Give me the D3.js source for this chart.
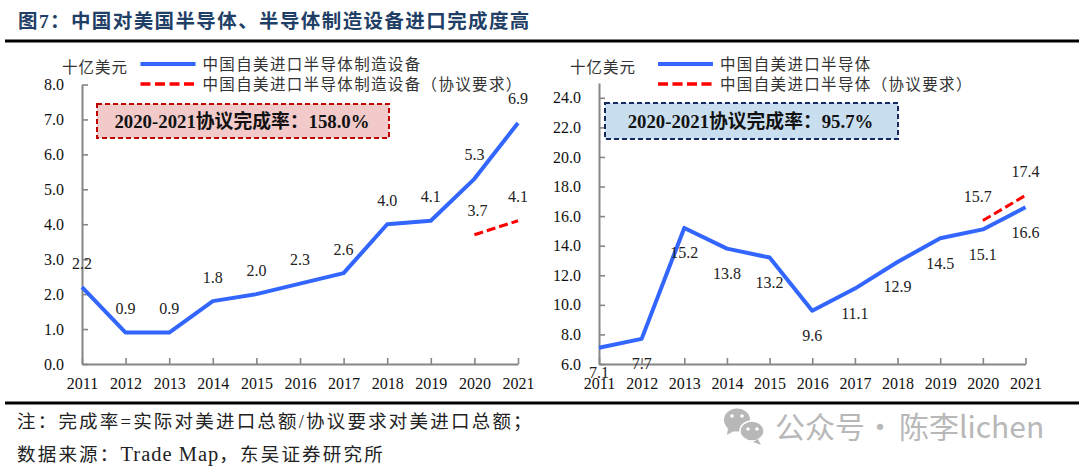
<!DOCTYPE html>
<html><head><meta charset="utf-8">
<script src="https://cdn.jsdelivr.net/npm/d3@7/dist/d3.min.js"></script>
<style>
html,body{margin:0;padding:0;background:#fff;overflow:hidden}
svg{display:block}
text{font-family:"Liberation Serif","Noto Sans CJK SC",serif}
</style></head><body>
<svg id="c" width="1080" height="471"></svg>
<script>
const years = ["2011","2012","2013","2014","2015","2016","2017","2018","2019","2020","2021"];
const equipActual = [2.2,0.9,0.9,1.8,2.0,2.3,2.6,4.0,4.1,5.3,6.9];
const equipTarget = [3.7,4.1];
const chipActual = [7.1,7.7,15.2,13.8,13.2,9.6,11.1,12.9,14.5,15.1,16.6];
const chipTarget = [15.7,17.4];
const targetYears = ["2020","2021"];
const equipTicks = [0,1,2,3,4,5,6,7,8];
const chipTicks = [6,8,10,12,14,16,18,20,22,24];
const titleText = "图7：中国对美国半导体、半导体制造设备进口完成度高";
const noteText = "注：完成率=实际对美进口总额/协议要求对美进口总额；";
const sourceParts = ["数据来源：","Trade Map","，东吴证券研究所"];
const unitText = "十亿美元";

const BLUE="#3366ff", RED="#ff0000", GREY="#868686", INK="#222";
const svg=d3.select("#c");

svg.append("text").attr("x",18).attr("y",28).attr("font-size",19.5).attr("font-weight",700)
  .attr("letter-spacing",1.4).attr("fill","#1f3f66").text(titleText);
[41,403].forEach(y=>svg.append("line").attr("x1",5).attr("x2",1079).attr("y1",y).attr("y2",y)
  .attr("stroke","#000").attr("stroke-width",3));
svg.append("text").attr("x",17).attr("y",428).attr("font-size",18.5).attr("letter-spacing",2.2).attr("fill",INK).text(noteText);
const src=svg.append("text").attr("x",17).attr("y",461).attr("font-size",18.5).attr("letter-spacing",2.2).attr("fill",INK);
sourceParts.forEach((s,i)=>{
  const t=src.append("tspan").text(s);
  if(i===1) t.attr("font-size",20.5).attr("letter-spacing",1);
});

function panel(o){
  const g=svg.append("g");
  const x=d3.scalePoint().domain(years).range(o.xr);
  const y=d3.scaleLinear().domain(o.yd).range(o.yr);
  const fmt=d=>d.toFixed(1);
  const ya=g.append("g").attr("transform",`translate(${o.xr[0]},0)`)
    .call(d3.axisLeft(y).tickValues(o.ticks).tickSize(-6).tickSizeOuter(0).tickPadding(18).tickFormat(fmt));
  const xa=g.append("g").attr("transform",`translate(0,${o.yr[0]})`)
    .call(d3.axisBottom(x).tickSize(-6).tickSizeOuter(0).tickPadding(14));
  [ya,xa].forEach(a=>{
    a.selectAll("path").attr("stroke",GREY).attr("stroke-width",2);
    a.selectAll("line").attr("stroke",GREY).attr("stroke-width",1.6);
    a.selectAll("text").attr("font-size",16).attr("fill","#111")
      .style("font-family","Liberation Serif");
  });
  const ln=d3.line().x(d=>x(d[0])).y(d=>y(d[1]));
  g.append("path").attr("d",ln(years.map((t,i)=>[t,o.actual[i]]))).attr("fill","none")
    .attr("stroke",BLUE).attr("stroke-width",4).attr("stroke-linejoin","round");
  g.append("path").attr("d",ln(targetYears.map((t,i)=>[t,o.target[i]]))).attr("fill","none")
    .attr("stroke",RED).attr("stroke-width",3).attr("stroke-dasharray","9,4");
  const lab=(t,v,dy,dx=0)=>g.append("text").attr("x",x(t)+dx).attr("y",y(v)+dy+5.5).attr("text-anchor","middle")
    .attr("font-size",16).attr("fill","#222").text(fmt(v));
  years.forEach((t,i)=>lab(t,o.actual[i],o.actualDy));
  targetYears.forEach((t,i)=>lab(t,o.target[i],-24,o.tdx[i]));
  g.append("text").attr("x",o.unitX).attr("y",o.unitY).attr("font-size",15.5).attr("letter-spacing",1).attr("fill","#333").text(unitText);
  [[o.names[0],64,BLUE,4,null],[o.names[1],84,RED,3.4,"10,4.5"]].forEach(([n,ly,c,w,dash])=>{
    g.append("line").attr("x1",o.legX).attr("x2",o.legX+55).attr("y1",ly).attr("y2",ly)
      .attr("stroke",c).attr("stroke-width",w).attr("stroke-dasharray",dash);
    g.append("text").attr("x",o.legX+62).attr("y",ly+5.5).attr("font-size",15.5).attr("letter-spacing",1.35).attr("fill","#333").text(n);
  });
  g.append("rect").attr("x",o.box[0]).attr("y",o.box[1]).attr("width",o.box[2]).attr("height",o.box[3])
    .attr("fill",o.boxFill).attr("stroke",o.boxStroke).attr("stroke-width",2).attr("stroke-dasharray","5,3");
  g.append("text").attr("x",o.box[0]+o.box[2]/2-1).attr("y",o.box[1]+o.box[3]/2+6.5).attr("text-anchor","middle")
    .attr("font-size",o.boxFont).attr("font-weight",700).attr("fill","#111").text(o.boxText);
}
panel({xr:[82,518],yd:[0,8],yr:[364,84.5],ticks:equipTicks,actual:equipActual,target:equipTarget,
  actualDy:-24,tdx:[3,0],unitX:62,unitY:73,legX:140.5,
  names:["中国自美进口半导体制造设备","中国自美进口半导体制造设备（协议要求）"],
  box:[97,104,292,34],boxFill:"#f2caca",boxStroke:"#c00000",boxFont:18.8,boxText:"2020-2021协议完成率：158.0%"});
panel({xr:[599,1025.5],yd:[6,25],yr:[364,83],ticks:chipTicks,actual:chipActual,target:chipTarget,
  actualDy:25,tdx:[-5,0],unitX:570,unitY:73,legX:658,
  names:["中国自美进口半导体","中国自美进口半导体（协议要求）"],
  box:[605,103,293,36],boxFill:"#c9dff0",boxStroke:"#14295e",boxFont:18.8,boxText:"2020-2021协议完成率：95.7%"});

const WM="#b8b8b8";
const wm=svg.append("g").attr("fill",WM);
wm.append("ellipse").attr("cx",737).attr("cy",420).attr("rx",13).attr("ry",11.5);
wm.append("path").attr("d","M728 428l-1 7 7-4z");
wm.append("ellipse").attr("cx",752).attr("cy",431).attr("rx",12).attr("ry",10).attr("stroke","#fff").attr("stroke-width",1.5);
wm.append("path").attr("d","M758 439l3 6-8-3z");
[[732,416],[742,416],[748,429],[757,429]].forEach(([a,b])=>wm.append("circle").attr("cx",a).attr("cy",b).attr("r",1.8).attr("fill","#fff"));
[["公众号",775,"start"],["·",880,"middle"],["陈李lichen",899,"start"]].forEach(([s,px,anc])=>
  svg.append("text").attr("x",px).attr("y",438).attr("font-size",30).attr("text-anchor",anc).attr("fill",WM)
    .style("font-family","'Noto Sans CJK SC','Noto Sans',sans-serif").text(s));
</script></body></html>
